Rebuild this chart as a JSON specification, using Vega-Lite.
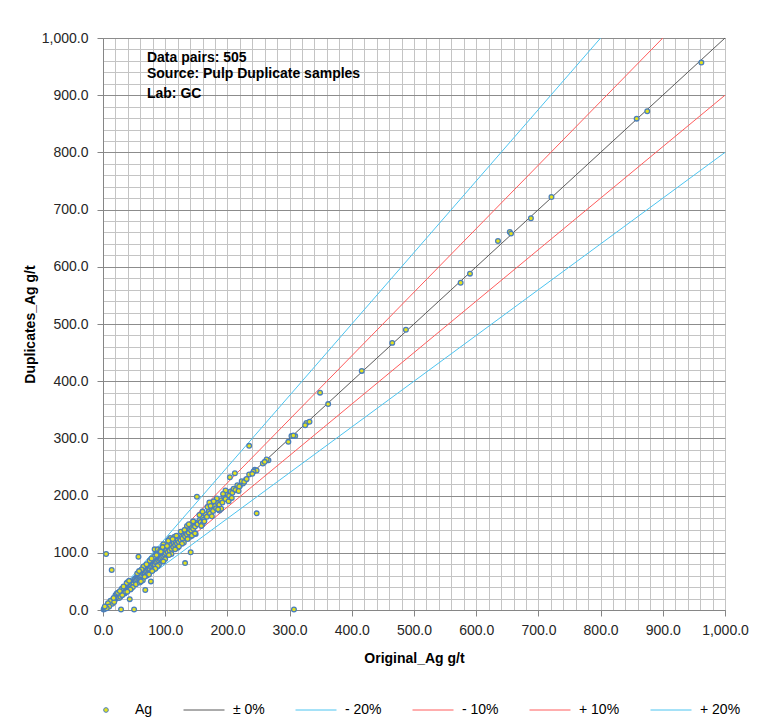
{
  "$schema": "https://vega.github.io/schema/vega-lite/v6.json",
  "autosize": "none",
  "width": 622,
  "height": 572,
  "padding": {"left": 103, "top": 38, "right": 51, "bottom": 112},
  "background": "white",
  "config": {
    "view": {"stroke": "#8c8c8c", "strokeWidth": 1},
    "font": "Liberation Sans",
    "axis": {"labelFont": "Liberation Sans", "labelFontSize": 14, "labelColor": "#262626", "titleFont": "Liberation Sans", "titleFontSize": 14, "titleFontWeight": "bold", "titleColor": "#000000"}
  },
  "datasets": {
    "pts": [
      {"orig":962,"dup":957},{"orig":858,"dup":859},{"orig":875,"dup":872},{"orig":721,"dup":722},{"orig":688,"dup":685},{"orig":654,"dup":661},{"orig":656,"dup":658},{"orig":635,"dup":645},{"orig":575,"dup":572},{"orig":590,"dup":588},{"orig":487,"dup":490},{"orig":465,"dup":467},{"orig":416,"dup":418},{"orig":362,"dup":360},{"orig":349,"dup":380},{"orig":327,"dup":327},{"orig":332,"dup":329},{"orig":325,"dup":323},{"orig":303,"dup":304},{"orig":309,"dup":304},{"orig":306,"dup":305},{"orig":298,"dup":294},{"orig":235,"dup":287},{"orig":266,"dup":262},{"orig":263,"dup":263},{"orig":257,"dup":256},{"orig":260,"dup":259},{"orig":244,"dup":245},{"orig":247,"dup":244},{"orig":242,"dup":242},{"orig":212,"dup":239},{"orig":204,"dup":232},{"orig":230,"dup":228},{"orig":227,"dup":224},{"orig":225,"dup":221},{"orig":220,"dup":217},{"orig":215,"dup":213},{"orig":209,"dup":209},{"orig":204,"dup":206},{"orig":201,"dup":203},{"orig":247,"dup":169},{"orig":151,"dup":198},{"orig":171,"dup":188},{"orig":187,"dup":174},{"orig":149,"dup":133},{"orig":141,"dup":101},{"orig":132,"dup":82},{"orig":108,"dup":126},{"orig":105,"dup":122},{"orig":97,"dup":115},{"orig":57,"dup":93},{"orig":68,"dup":35},{"orig":14,"dup":70},{"orig":5,"dup":98},{"orig":29,"dup":1},{"orig":50,"dup":1},{"orig":307,"dup":1},{"orig":43,"dup":19},{"orig":77,"dup":50},{"orig":56,"dup":61},{"orig":83,"dup":106},{"orig":88,"dup":106},
      {"orig":1,"dup":1},{"orig":2,"dup":3},{"orig":3,"dup":2},{"orig":4,"dup":4},{"orig":5,"dup":6},{"orig":6,"dup":5},{"orig":7,"dup":7},{"orig":8,"dup":9},{"orig":9,"dup":8},{"orig":10,"dup":11},{"orig":11,"dup":10},{"orig":12,"dup":13},{"orig":13,"dup":12},{"orig":14,"dup":15},{"orig":15,"dup":14},{"orig":16,"dup":18},{"orig":17,"dup":16},{"orig":18,"dup":19},{"orig":19,"dup":18},{"orig":20,"dup":22},{"orig":21,"dup":20},{"orig":22,"dup":23},{"orig":23,"dup":22},{"orig":24,"dup":26},{"orig":25,"dup":24},{"orig":26,"dup":27},{"orig":27,"dup":25},{"orig":28,"dup":30},{"orig":29,"dup":28},{"orig":30,"dup":31},{"orig":31,"dup":30},{"orig":32,"dup":35},{"orig":33,"dup":32},{"orig":34,"dup":35},{"orig":35,"dup":33},{"orig":36,"dup":39},{"orig":37,"dup":36},{"orig":38,"dup":40},{"orig":39,"dup":37},{"orig":40,"dup":42},{"orig":41,"dup":40},{"orig":42,"dup":45},{"orig":43,"dup":41},{"orig":44,"dup":46},{"orig":45,"dup":43},{"orig":46,"dup":49},{"orig":47,"dup":45},{"orig":48,"dup":50},{"orig":49,"dup":47},{"orig":50,"dup":53},
      {"orig":20,"dup":26},{"orig":26,"dup":21},{"orig":30,"dup":37},{"orig":35,"dup":29},{"orig":40,"dup":49},{"orig":45,"dup":37},{"orig":38,"dup":47},{"orig":28,"dup":23},{"orig":33,"dup":41},{"orig":48,"dup":40},{"orig":22,"dup":29},{"orig":15,"dup":11},{"orig":12,"dup":16},{"orig":8,"dup":12},{"orig":10,"dup":6},{"orig":6,"dup":3},{"orig":3,"dup":6},{"orig":18,"dup":14},{"orig":24,"dup":30},{"orig":36,"dup":31},{"orig":42,"dup":51},{"orig":44,"dup":36},{"orig":31,"dup":26},{"orig":27,"dup":33},{"orig":17,"dup":21},{"orig":39,"dup":32},
      {"orig":51,"dup":51},{"orig":52,"dup":55},{"orig":53,"dup":51},{"orig":54,"dup":57},{"orig":55,"dup":53},{"orig":56,"dup":58},{"orig":57,"dup":55},{"orig":58,"dup":61},{"orig":59,"dup":57},{"orig":60,"dup":62},{"orig":61,"dup":59},{"orig":62,"dup":65},{"orig":63,"dup":60},{"orig":64,"dup":66},{"orig":65,"dup":63},{"orig":66,"dup":69},{"orig":67,"dup":64},{"orig":68,"dup":70},{"orig":69,"dup":67},{"orig":70,"dup":73},{"orig":71,"dup":68},{"orig":72,"dup":74},{"orig":73,"dup":71},{"orig":74,"dup":77},{"orig":75,"dup":72},{"orig":76,"dup":78},{"orig":77,"dup":75},{"orig":78,"dup":81},{"orig":79,"dup":76},{"orig":80,"dup":82},{"orig":81,"dup":79},{"orig":82,"dup":85},{"orig":83,"dup":80},{"orig":84,"dup":86},{"orig":85,"dup":83},{"orig":86,"dup":89},{"orig":87,"dup":84},{"orig":88,"dup":90},{"orig":89,"dup":87},{"orig":90,"dup":92},{"orig":91,"dup":89},{"orig":92,"dup":95},{"orig":93,"dup":90},{"orig":94,"dup":96},{"orig":95,"dup":92},{"orig":96,"dup":99},{"orig":97,"dup":94},{"orig":98,"dup":100},{"orig":99,"dup":97},{"orig":100,"dup":102},
      {"orig":55,"dup":64},{"orig":60,"dup":52},{"orig":65,"dup":76},{"orig":70,"dup":60},{"orig":75,"dup":86},{"orig":80,"dup":70},{"orig":85,"dup":97},{"orig":90,"dup":79},{"orig":95,"dup":108},{"orig":100,"dup":89},{"orig":62,"dup":71},{"orig":72,"dup":63},{"orig":82,"dup":93},{"orig":88,"dup":77},{"orig":92,"dup":104},{"orig":97,"dup":85},{"orig":64,"dup":52},{"orig":74,"dup":62},{"orig":84,"dup":72},{"orig":53,"dup":45},{"orig":58,"dup":68},{"orig":67,"dup":58},{"orig":78,"dup":90},{"orig":93,"dup":102},{"orig":59,"dup":48},{"orig":70,"dup":80},{"orig":86,"dup":96},{"orig":79,"dup":68},{"orig":61,"dup":50},{"orig":96,"dup":110},
      {"orig":101,"dup":99},{"orig":102,"dup":105},{"orig":104,"dup":101},{"orig":105,"dup":108},{"orig":107,"dup":104},{"orig":108,"dup":111},{"orig":110,"dup":107},{"orig":111,"dup":114},{"orig":113,"dup":110},{"orig":114,"dup":117},{"orig":116,"dup":113},{"orig":117,"dup":120},{"orig":119,"dup":116},{"orig":120,"dup":123},{"orig":122,"dup":119},{"orig":124,"dup":126},{"orig":125,"dup":122},{"orig":127,"dup":129},{"orig":128,"dup":125},{"orig":130,"dup":132},{"orig":132,"dup":129},{"orig":133,"dup":135},{"orig":135,"dup":132},{"orig":137,"dup":139},{"orig":138,"dup":135},{"orig":140,"dup":142},{"orig":142,"dup":139},{"orig":143,"dup":145},{"orig":145,"dup":142},{"orig":147,"dup":149},{"orig":148,"dup":146},{"orig":150,"dup":152},
      {"orig":105,"dup":121},{"orig":110,"dup":98},{"orig":115,"dup":128},{"orig":120,"dup":109},{"orig":125,"dup":137},{"orig":130,"dup":118},{"orig":135,"dup":147},{"orig":140,"dup":128},{"orig":145,"dup":155},{"orig":103,"dup":112},{"orig":118,"dup":130},{"orig":127,"dup":116},{"orig":138,"dup":150},{"orig":143,"dup":130},{"orig":148,"dup":134},{"orig":112,"dup":124},{"orig":122,"dup":111},{"orig":131,"dup":140},{"orig":136,"dup":124},{"orig":106,"dup":96},{"orig":116,"dup":106},
      {"orig":152,"dup":150},{"orig":155,"dup":157},{"orig":157,"dup":154},{"orig":160,"dup":162},{"orig":162,"dup":158},{"orig":165,"dup":167},{"orig":167,"dup":163},{"orig":170,"dup":172},{"orig":172,"dup":169},{"orig":175,"dup":177},{"orig":177,"dup":173},{"orig":180,"dup":182},{"orig":182,"dup":178},{"orig":185,"dup":187},{"orig":187,"dup":184},{"orig":190,"dup":192},{"orig":192,"dup":188},{"orig":195,"dup":197},{"orig":197,"dup":194},{"orig":200,"dup":203},{"orig":203,"dup":200},{"orig":205,"dup":207},{"orig":208,"dup":205},{"orig":210,"dup":212},{"orig":213,"dup":210},{"orig":216,"dup":218},{"orig":219,"dup":216},{"orig":223,"dup":225},{"orig":227,"dup":224},{"orig":231,"dup":229},{"orig":235,"dup":237},{"orig":240,"dup":238},
      {"orig":155,"dup":166},{"orig":160,"dup":150},{"orig":168,"dup":180},{"orig":175,"dup":164},{"orig":183,"dup":195},{"orig":190,"dup":177},{"orig":197,"dup":209},{"orig":202,"dup":190},{"orig":160,"dup":172},{"orig":178,"dup":190},{"orig":218,"dup":208},{"orig":163,"dup":155},{"orig":185,"dup":176},{"orig":193,"dup":203},{"orig":207,"dup":196},{"orig":173,"dup":182},{"orig":158,"dup":147}
    ],
    "refs": [
      {"series":"± 0%","orig":0,"dup":0},{"series":"± 0%","orig":1000,"dup":1000},
      {"series":"- 20%","orig":0,"dup":0},{"series":"- 20%","orig":1000,"dup":800},
      {"series":"- 10%","orig":0,"dup":0},{"series":"- 10%","orig":1000,"dup":900},
      {"series":"+ 10%","orig":0,"dup":0},{"series":"+ 10%","orig":900,"dup":1000},
      {"series":"+ 20%","orig":0,"dup":0},{"series":"+ 20%","orig":800,"dup":1000}
    ],
    "notes": [
      {"line": "Data pairs: 505", "ox": 70.7, "oy": 965.1},
      {"line": "Source: Pulp Duplicate samples", "ox": 70.7, "oy": 937.1},
      {"line": "Lab: GC", "ox": 70.7, "oy": 902.1}
    ]
  },
  "layer": [
    {
      "data": {"name": "refs"},
      "mark": {"type": "line", "strokeWidth": 1},
      "encoding": {
        "x": {
          "field": "orig", "type": "quantitative",
          "scale": {"domain": [0, 1000], "nice": false, "zero": true},
          "axis": {
            "title": "Original_Ag g/t",
            "values": [0,20,40,60,80,100,120,140,160,180,200,220,240,260,280,300,320,340,360,380,400,420,440,460,480,500,520,540,560,580,600,620,640,660,680,700,720,740,760,780,800,820,840,860,880,900,920,940,960,980,1000],
            "tickCount": 100,
            "labelExpr": "datum.value % 100 === 0 ? format(datum.value, ',.1f') : ''",
            "labelOverlap": false, "labelFlush": false, "labelBound": false,
            "labelPadding": 7,
            "tickSize": 6,
            "tickColor": "#868686",
            "tickOpacity": {"condition": {"test": "datum.value % 100 === 0", "value": 1}, "value": 0},
            "domainColor": "#868686",
            "gridColor": "#c4c4c4",
            "gridOpacity": 1,
            "titlePadding": 14
          }
        },
        "y": {
          "field": "dup", "type": "quantitative",
          "scale": {"domain": [0, 1000], "nice": false, "zero": true},
          "axis": {
            "title": "Duplicates_Ag g/t",
            "values": [0,20,40,60,80,100,120,140,160,180,200,220,240,260,280,300,320,340,360,380,400,420,440,460,480,500,520,540,560,580,600,620,640,660,680,700,720,740,760,780,800,820,840,860,880,900,920,940,960,980,1000],
            "tickCount": 100,
            "labelExpr": "datum.value % 100 === 0 ? format(datum.value, ',.1f') : ''",
            "labelOverlap": false, "labelFlush": false, "labelBound": false,
            "labelPadding": 9,
            "tickSize": 6,
            "tickColor": "#868686",
            "tickOpacity": {"condition": {"test": "datum.value % 100 === 0", "value": 1}, "value": 0},
            "domainColor": "#868686",
            "gridColor": {"condition": {"test": "datum.value % 100 === 0", "value": "#8c8c8c"}, "value": "#c4c4c4"},
            "gridOpacity": 1,
            "titlePadding": 4
          }
        },
        "stroke": {
          "field": "series", "type": "nominal",
          "scale": {"domain": ["Ag", "± 0%", "- 20%", "- 10%", "+ 10%", "+ 20%"], "range": ["#4a7ebb", "#595959", "#4cc4f0", "#ff5c5c", "#ff5c5c", "#4cc4f0"]},
          "legend": {
            "title": null,
            "orient": "none",
            "direction": "horizontal",
            "legendX": -18,
            "legendY": 651,
            "columns": 6,
            "gridAlign": "none",
            "columnPadding": 28,
            "symbolSize": 1681,
            "symbolStrokeWidth": 1,
            "labelOffset": 8,
            "labelFont": "Liberation Sans",
            "labelFontSize": 14,
            "labelColor": "#000000",
            "labelLimit": 200,
            "encode": {
              "symbols": {
                "update": {
                  "shape": {"signal": "datum.value === 'Ag' ? 'circle' : 'stroke'"},
                  "size": {"signal": "datum.value === 'Ag' ? 22 : 1681"},
                  "fill": {"signal": "datum.value === 'Ag' ? '#e3e21e' : 'transparent'"},
                  "strokeWidth": {"value": 1}
                }
              }
            }
          }
        },
        "detail": {"field": "series", "type": "nominal"}
      }
    },
    {
      "data": {"name": "pts"},
      "transform": [{"calculate": "'Ag'", "as": "series"}],
      "mark": {"type": "point", "shape": "circle", "filled": false, "fill": "#e3e21e", "fillOpacity": 1, "strokeWidth": 1.3, "size": 22, "opacity": 1},
      "encoding": {
        "x": {"field": "orig", "type": "quantitative"},
        "y": {"field": "dup", "type": "quantitative"},
        "stroke": {"field": "series", "type": "nominal"}
      }
    },
    {
      "data": {"name": "notes"},
      "mark": {"type": "text", "align": "left", "baseline": "middle", "font": "Liberation Sans", "fontWeight": "bold", "fontSize": 14, "color": "#000000"},
      "encoding": {
        "x": {"field": "ox", "type": "quantitative"},
        "y": {"field": "oy", "type": "quantitative"},
        "text": {"field": "line", "type": "nominal"}
      }
    }
  ]
}
